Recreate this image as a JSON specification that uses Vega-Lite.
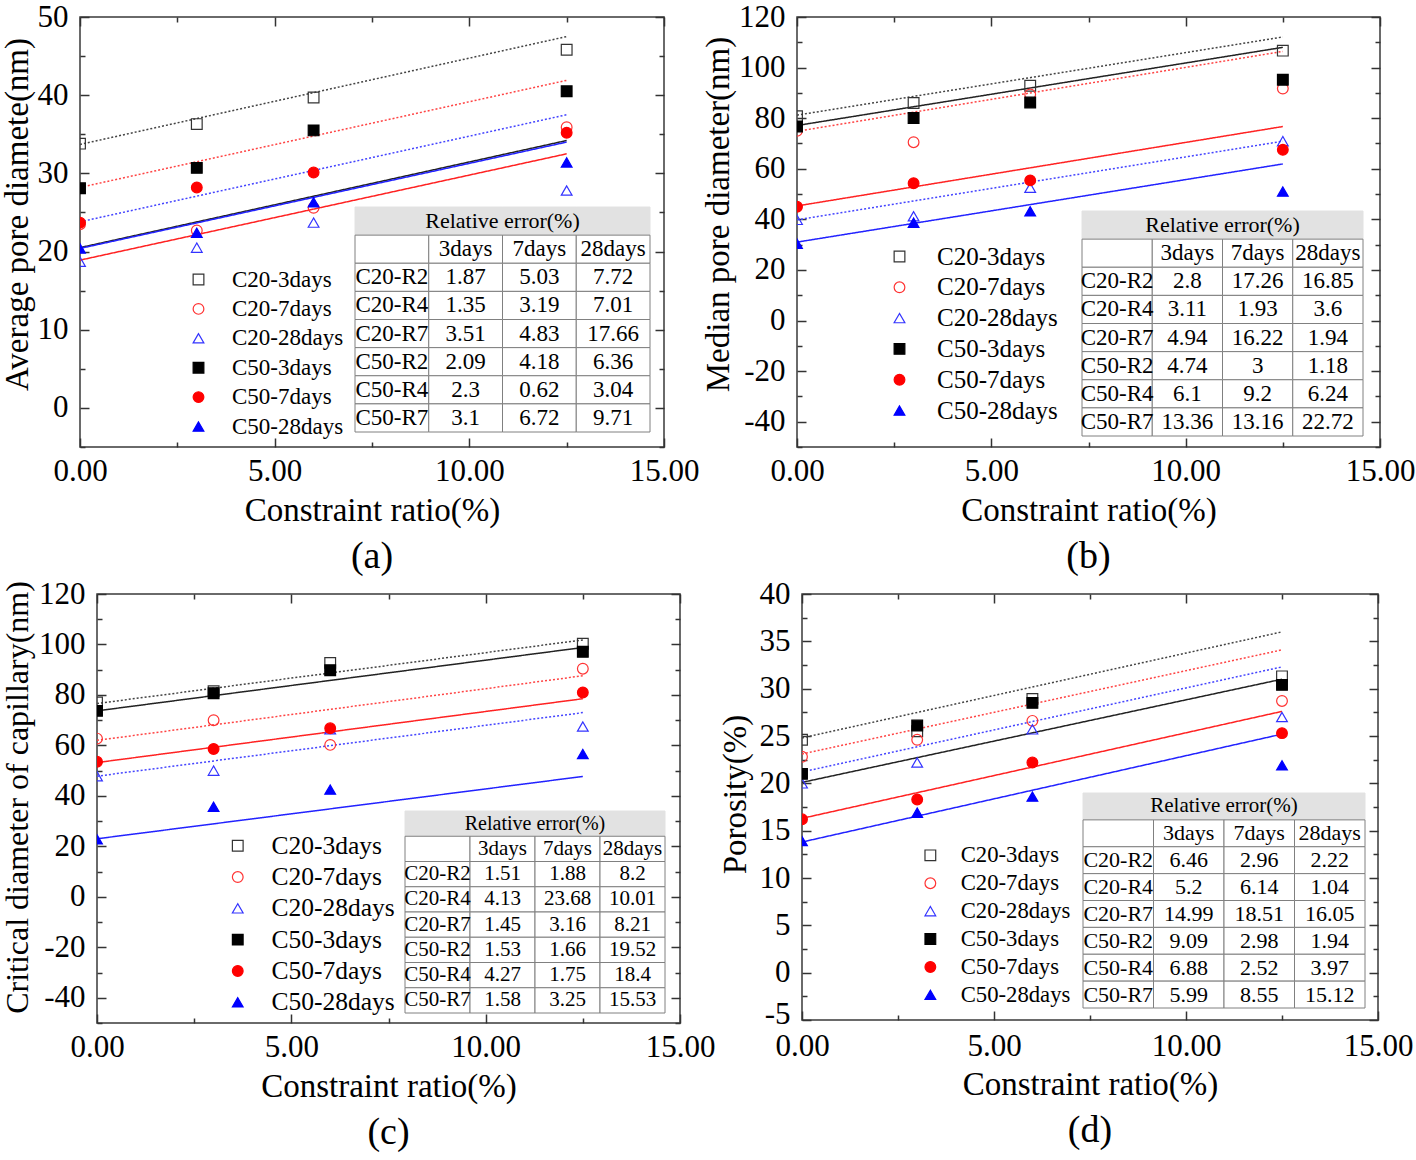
{
"$schema": "https://vega.github.io/schema/vega-lite/v6.json",
"padding": {"left": -2, "top": 0, "right": 0, "bottom": 0},
"background": "white",
"config": {
  "font": "Liberation Serif",
  "view": {"stroke": "#3a3a3a", "strokeWidth": 1.5},
  "axis": {"labelFont": "Liberation Serif", "titleFont": "Liberation Serif", "labelFontSize": 31, "titleFontSize": 33, "titleFontWeight": "normal", "labelColor": "#000", "titleColor": "#000", "tickColor": "#333", "tickWidth": 1.5, "domain": false, "grid": false, "labelFlush": false, "labelOverlap": false, "labelBound": false},
  "legend": {"labelFont": "Liberation Serif", "labelColor": "#000", "symbolStrokeWidth": 1.2, "symbolSize": 115},
  "title": {"font": "Liberation Serif", "fontSize": 38, "fontWeight": "normal", "color": "#000"}
},
"datasets": {
  "pa": [
    {"series": "C20-3days", "x": 0, "y": 33.8}, {"series": "C20-3days", "x": 3, "y": 36.3}, {"series": "C20-3days", "x": 6, "y": 39.7}, {"series": "C20-3days", "x": 12.5, "y": 45.8},
    {"series": "C20-7days", "x": 0, "y": 23.5}, {"series": "C20-7days", "x": 3, "y": 22.7}, {"series": "C20-7days", "x": 6, "y": 25.6}, {"series": "C20-7days", "x": 12.5, "y": 35.9},
    {"series": "C20-28days", "x": 0, "y": 18.7}, {"series": "C20-28days", "x": 3, "y": 20.5}, {"series": "C20-28days", "x": 6, "y": 23.7}, {"series": "C20-28days", "x": 12.5, "y": 27.8},
    {"series": "C50-3days", "x": 0, "y": 28.1}, {"series": "C50-3days", "x": 3, "y": 30.7}, {"series": "C50-3days", "x": 6, "y": 35.5}, {"series": "C50-3days", "x": 12.5, "y": 40.5},
    {"series": "C50-7days", "x": 0, "y": 23.7}, {"series": "C50-7days", "x": 3, "y": 28.2}, {"series": "C50-7days", "x": 6, "y": 30.1}, {"series": "C50-7days", "x": 12.5, "y": 35.2},
    {"series": "C50-28days", "x": 0, "y": 20.4}, {"series": "C50-28days", "x": 3, "y": 22.4}, {"series": "C50-28days", "x": 6, "y": 26.3}, {"series": "C50-28days", "x": 12.5, "y": 31.4}
  ],
  "la": [
    {"series": "C20-3days", "x": 0, "y": 33.7}, {"series": "C20-3days", "x": 12.5, "y": 47.5},
    {"series": "C20-7days", "x": 0, "y": 28.2}, {"series": "C20-7days", "x": 12.5, "y": 41.9},
    {"series": "C20-28days", "x": 0, "y": 23.8}, {"series": "C20-28days", "x": 12.5, "y": 37.5},
    {"series": "C50-3days", "x": 0, "y": 20.5}, {"series": "C50-3days", "x": 12.5, "y": 34.2},
    {"series": "C50-7days", "x": 0, "y": 18.9}, {"series": "C50-7days", "x": 12.5, "y": 32.5},
    {"series": "C50-28days", "x": 0, "y": 20.4}, {"series": "C50-28days", "x": 12.5, "y": 34.0}
  ],
  "ta": [
    {"r": "title", "c": "lbl", "t": ""}, {"r": "title", "c": "3days", "t": ""}, {"r": "title", "c": "7days", "t": ""}, {"r": "title", "c": "28days", "t": ""},
    {"r": "head", "c": "lbl", "t": ""}, {"r": "head", "c": "3days", "t": "3days"}, {"r": "head", "c": "7days", "t": "7days"}, {"r": "head", "c": "28days", "t": "28days"},
    {"r": "C20-R2", "c": "lbl", "t": "C20-R2"}, {"r": "C20-R2", "c": "3days", "t": "1.87"}, {"r": "C20-R2", "c": "7days", "t": "5.03"}, {"r": "C20-R2", "c": "28days", "t": "7.72"},
    {"r": "C20-R4", "c": "lbl", "t": "C20-R4"}, {"r": "C20-R4", "c": "3days", "t": "1.35"}, {"r": "C20-R4", "c": "7days", "t": "3.19"}, {"r": "C20-R4", "c": "28days", "t": "7.01"},
    {"r": "C20-R7", "c": "lbl", "t": "C20-R7"}, {"r": "C20-R7", "c": "3days", "t": "3.51"}, {"r": "C20-R7", "c": "7days", "t": "4.83"}, {"r": "C20-R7", "c": "28days", "t": "17.66"},
    {"r": "C50-R2", "c": "lbl", "t": "C50-R2"}, {"r": "C50-R2", "c": "3days", "t": "2.09"}, {"r": "C50-R2", "c": "7days", "t": "4.18"}, {"r": "C50-R2", "c": "28days", "t": "6.36"},
    {"r": "C50-R4", "c": "lbl", "t": "C50-R4"}, {"r": "C50-R4", "c": "3days", "t": "2.3"}, {"r": "C50-R4", "c": "7days", "t": "0.62"}, {"r": "C50-R4", "c": "28days", "t": "3.04"},
    {"r": "C50-R7", "c": "lbl", "t": "C50-R7"}, {"r": "C50-R7", "c": "3days", "t": "3.1"}, {"r": "C50-R7", "c": "7days", "t": "6.72"}, {"r": "C50-R7", "c": "28days", "t": "9.71"}
  ],
  "pb": [
    {"series": "C20-3days", "x": 0, "y": 80.8}, {"series": "C20-3days", "x": 3, "y": 86}, {"series": "C20-3days", "x": 6, "y": 92.8}, {"series": "C20-3days", "x": 12.5, "y": 106.7},
    {"series": "C20-7days", "x": 0, "y": 75}, {"series": "C20-7days", "x": 3, "y": 70.5}, {"series": "C20-7days", "x": 6, "y": 89.4}, {"series": "C20-7days", "x": 12.5, "y": 91.7},
    {"series": "C20-28days", "x": 0, "y": 39.8}, {"series": "C20-28days", "x": 3, "y": 41.2}, {"series": "C20-28days", "x": 6, "y": 52.5}, {"series": "C20-28days", "x": 12.5, "y": 70.9},
    {"series": "C50-3days", "x": 0, "y": 76.7}, {"series": "C50-3days", "x": 3, "y": 80.1}, {"series": "C50-3days", "x": 6, "y": 86.2}, {"series": "C50-3days", "x": 12.5, "y": 95.2},
    {"series": "C50-7days", "x": 0, "y": 45}, {"series": "C50-7days", "x": 3, "y": 54.3}, {"series": "C50-7days", "x": 6, "y": 55.4}, {"series": "C50-7days", "x": 12.5, "y": 67.5},
    {"series": "C50-28days", "x": 0, "y": 30.4}, {"series": "C50-28days", "x": 3, "y": 38.7}, {"series": "C50-28days", "x": 6, "y": 43.2}, {"series": "C50-28days", "x": 12.5, "y": 51}
  ],
  "lb": [
    {"series": "C20-3days", "x": 0, "y": 81.2}, {"series": "C20-3days", "x": 12.5, "y": 112.1},
    {"series": "C20-7days", "x": 0, "y": 74.8}, {"series": "C20-7days", "x": 12.5, "y": 106.4},
    {"series": "C20-28days", "x": 0, "y": 39.8}, {"series": "C20-28days", "x": 12.5, "y": 70.9},
    {"series": "C50-3days", "x": 0, "y": 77.1}, {"series": "C50-3days", "x": 12.5, "y": 108},
    {"series": "C50-7days", "x": 0, "y": 45.3}, {"series": "C50-7days", "x": 12.5, "y": 76.7},
    {"series": "C50-28days", "x": 0, "y": 31}, {"series": "C50-28days", "x": 12.5, "y": 61.9}
  ],
  "tb": [
    {"r": "title", "c": "lbl", "t": ""}, {"r": "title", "c": "3days", "t": ""}, {"r": "title", "c": "7days", "t": ""}, {"r": "title", "c": "28days", "t": ""},
    {"r": "head", "c": "lbl", "t": ""}, {"r": "head", "c": "3days", "t": "3days"}, {"r": "head", "c": "7days", "t": "7days"}, {"r": "head", "c": "28days", "t": "28days"},
    {"r": "C20-R2", "c": "lbl", "t": "C20-R2"}, {"r": "C20-R2", "c": "3days", "t": "2.8"}, {"r": "C20-R2", "c": "7days", "t": "17.26"}, {"r": "C20-R2", "c": "28days", "t": "16.85"},
    {"r": "C20-R4", "c": "lbl", "t": "C20-R4"}, {"r": "C20-R4", "c": "3days", "t": "3.11"}, {"r": "C20-R4", "c": "7days", "t": "1.93"}, {"r": "C20-R4", "c": "28days", "t": "3.6"},
    {"r": "C20-R7", "c": "lbl", "t": "C20-R7"}, {"r": "C20-R7", "c": "3days", "t": "4.94"}, {"r": "C20-R7", "c": "7days", "t": "16.22"}, {"r": "C20-R7", "c": "28days", "t": "1.94"},
    {"r": "C50-R2", "c": "lbl", "t": "C50-R2"}, {"r": "C50-R2", "c": "3days", "t": "4.74"}, {"r": "C50-R2", "c": "7days", "t": "3"}, {"r": "C50-R2", "c": "28days", "t": "1.18"},
    {"r": "C50-R4", "c": "lbl", "t": "C50-R4"}, {"r": "C50-R4", "c": "3days", "t": "6.1"}, {"r": "C50-R4", "c": "7days", "t": "9.2"}, {"r": "C50-R4", "c": "28days", "t": "6.24"},
    {"r": "C50-R7", "c": "lbl", "t": "C50-R7"}, {"r": "C50-R7", "c": "3days", "t": "13.36"}, {"r": "C50-R7", "c": "7days", "t": "13.16"}, {"r": "C50-R7", "c": "28days", "t": "22.72"}
  ],
  "pc": [
    {"series": "C20-3days", "x": 0, "y": 77}, {"series": "C20-3days", "x": 3, "y": 81.5}, {"series": "C20-3days", "x": 6, "y": 92.7}, {"series": "C20-3days", "x": 12.5, "y": 100.3},
    {"series": "C20-7days", "x": 0, "y": 62.7}, {"series": "C20-7days", "x": 3, "y": 70}, {"series": "C20-7days", "x": 6, "y": 60.2}, {"series": "C20-7days", "x": 12.5, "y": 90.4},
    {"series": "C20-28days", "x": 0, "y": 47.8}, {"series": "C20-28days", "x": 3, "y": 50}, {"series": "C20-28days", "x": 6, "y": 66.4}, {"series": "C20-28days", "x": 12.5, "y": 67.5},
    {"series": "C50-3days", "x": 0, "y": 73.7}, {"series": "C50-3days", "x": 3, "y": 80.7}, {"series": "C50-3days", "x": 6, "y": 89.8}, {"series": "C50-3days", "x": 12.5, "y": 97.1},
    {"series": "C50-7days", "x": 0, "y": 53.5}, {"series": "C50-7days", "x": 3, "y": 58.6}, {"series": "C50-7days", "x": 6, "y": 66.8}, {"series": "C50-7days", "x": 12.5, "y": 81},
    {"series": "C50-28days", "x": 0, "y": 22.8}, {"series": "C50-28days", "x": 3, "y": 35.7}, {"series": "C50-28days", "x": 6, "y": 42.5}, {"series": "C50-28days", "x": 12.5, "y": 56.6}
  ],
  "lc": [
    {"series": "C20-3days", "x": 0, "y": 76.6}, {"series": "C20-3days", "x": 12.5, "y": 101.8},
    {"series": "C20-7days", "x": 0, "y": 62}, {"series": "C20-7days", "x": 12.5, "y": 87.6},
    {"series": "C20-28days", "x": 0, "y": 47.8}, {"series": "C20-28days", "x": 12.5, "y": 73},
    {"series": "C50-3days", "x": 0, "y": 73.7}, {"series": "C50-3days", "x": 12.5, "y": 98.8},
    {"series": "C50-7days", "x": 0, "y": 53.2}, {"series": "C50-7days", "x": 12.5, "y": 78.5},
    {"series": "C50-28days", "x": 0, "y": 23}, {"series": "C50-28days", "x": 12.5, "y": 47.7}
  ],
  "tc": [
    {"r": "title", "c": "lbl", "t": ""}, {"r": "title", "c": "3days", "t": ""}, {"r": "title", "c": "7days", "t": ""}, {"r": "title", "c": "28days", "t": ""},
    {"r": "head", "c": "lbl", "t": ""}, {"r": "head", "c": "3days", "t": "3days"}, {"r": "head", "c": "7days", "t": "7days"}, {"r": "head", "c": "28days", "t": "28days"},
    {"r": "C20-R2", "c": "lbl", "t": "C20-R2"}, {"r": "C20-R2", "c": "3days", "t": "1.51"}, {"r": "C20-R2", "c": "7days", "t": "1.88"}, {"r": "C20-R2", "c": "28days", "t": "8.2"},
    {"r": "C20-R4", "c": "lbl", "t": "C20-R4"}, {"r": "C20-R4", "c": "3days", "t": "4.13"}, {"r": "C20-R4", "c": "7days", "t": "23.68"}, {"r": "C20-R4", "c": "28days", "t": "10.01"},
    {"r": "C20-R7", "c": "lbl", "t": "C20-R7"}, {"r": "C20-R7", "c": "3days", "t": "1.45"}, {"r": "C20-R7", "c": "7days", "t": "3.16"}, {"r": "C20-R7", "c": "28days", "t": "8.21"},
    {"r": "C50-R2", "c": "lbl", "t": "C50-R2"}, {"r": "C50-R2", "c": "3days", "t": "1.53"}, {"r": "C50-R2", "c": "7days", "t": "1.66"}, {"r": "C50-R2", "c": "28days", "t": "19.52"},
    {"r": "C50-R4", "c": "lbl", "t": "C50-R4"}, {"r": "C50-R4", "c": "3days", "t": "4.27"}, {"r": "C50-R4", "c": "7days", "t": "1.75"}, {"r": "C50-R4", "c": "28days", "t": "18.4"},
    {"r": "C50-R7", "c": "lbl", "t": "C50-R7"}, {"r": "C50-R7", "c": "3days", "t": "1.58"}, {"r": "C50-R7", "c": "7days", "t": "3.25"}, {"r": "C50-R7", "c": "28days", "t": "15.53"}
  ],
  "pd": [
    {"series": "C20-3days", "x": 0, "y": 24.6}, {"series": "C20-3days", "x": 3, "y": 25.5}, {"series": "C20-3days", "x": 6, "y": 28.9}, {"series": "C20-3days", "x": 12.5, "y": 31.3},
    {"series": "C20-7days", "x": 0, "y": 22.8}, {"series": "C20-7days", "x": 3, "y": 24.6}, {"series": "C20-7days", "x": 6, "y": 26.6}, {"series": "C20-7days", "x": 12.5, "y": 28.7},
    {"series": "C20-28days", "x": 0, "y": 20}, {"series": "C20-28days", "x": 3, "y": 22.2}, {"series": "C20-28days", "x": 6, "y": 25.7}, {"series": "C20-28days", "x": 12.5, "y": 27},
    {"series": "C50-3days", "x": 0, "y": 21}, {"series": "C50-3days", "x": 3, "y": 26.1}, {"series": "C50-3days", "x": 6, "y": 28.5}, {"series": "C50-3days", "x": 12.5, "y": 30.4},
    {"series": "C50-7days", "x": 0, "y": 16.2}, {"series": "C50-7days", "x": 3, "y": 18.3}, {"series": "C50-7days", "x": 6, "y": 22.2}, {"series": "C50-7days", "x": 12.5, "y": 25.3},
    {"series": "C50-28days", "x": 0, "y": 13.9}, {"series": "C50-28days", "x": 3, "y": 16.9}, {"series": "C50-28days", "x": 6, "y": 18.6}, {"series": "C50-28days", "x": 12.5, "y": 21.9}
  ],
  "ld": [
    {"series": "C20-3days", "x": 0, "y": 24.8}, {"series": "C20-3days", "x": 12.5, "y": 36},
    {"series": "C20-7days", "x": 0, "y": 23.1}, {"series": "C20-7days", "x": 12.5, "y": 34.1},
    {"series": "C20-28days", "x": 0, "y": 21.2}, {"series": "C20-28days", "x": 12.5, "y": 32.3},
    {"series": "C50-3days", "x": 0, "y": 20.1}, {"series": "C50-3days", "x": 12.5, "y": 31},
    {"series": "C50-7days", "x": 0, "y": 16.3}, {"series": "C50-7days", "x": 12.5, "y": 27.6},
    {"series": "C50-28days", "x": 0, "y": 13.8}, {"series": "C50-28days", "x": 12.5, "y": 25.2}
  ],
  "td": [
    {"r": "title", "c": "lbl", "t": ""}, {"r": "title", "c": "3days", "t": ""}, {"r": "title", "c": "7days", "t": ""}, {"r": "title", "c": "28days", "t": ""},
    {"r": "head", "c": "lbl", "t": ""}, {"r": "head", "c": "3days", "t": "3days"}, {"r": "head", "c": "7days", "t": "7days"}, {"r": "head", "c": "28days", "t": "28days"},
    {"r": "C20-R2", "c": "lbl", "t": "C20-R2"}, {"r": "C20-R2", "c": "3days", "t": "6.46"}, {"r": "C20-R2", "c": "7days", "t": "2.96"}, {"r": "C20-R2", "c": "28days", "t": "2.22"},
    {"r": "C20-R4", "c": "lbl", "t": "C20-R4"}, {"r": "C20-R4", "c": "3days", "t": "5.2"}, {"r": "C20-R4", "c": "7days", "t": "6.14"}, {"r": "C20-R4", "c": "28days", "t": "1.04"},
    {"r": "C20-R7", "c": "lbl", "t": "C20-R7"}, {"r": "C20-R7", "c": "3days", "t": "14.99"}, {"r": "C20-R7", "c": "7days", "t": "18.51"}, {"r": "C20-R7", "c": "28days", "t": "16.05"},
    {"r": "C50-R2", "c": "lbl", "t": "C50-R2"}, {"r": "C50-R2", "c": "3days", "t": "9.09"}, {"r": "C50-R2", "c": "7days", "t": "2.98"}, {"r": "C50-R2", "c": "28days", "t": "1.94"},
    {"r": "C50-R4", "c": "lbl", "t": "C50-R4"}, {"r": "C50-R4", "c": "3days", "t": "6.88"}, {"r": "C50-R4", "c": "7days", "t": "2.52"}, {"r": "C50-R4", "c": "28days", "t": "3.97"},
    {"r": "C50-R7", "c": "lbl", "t": "C50-R7"}, {"r": "C50-R7", "c": "3days", "t": "5.99"}, {"r": "C50-R7", "c": "7days", "t": "8.55"}, {"r": "C50-R7", "c": "28days", "t": "15.12"}
  ]
},
"columns": 3,
"align": "none",
"spacing": {"row": 0, "column": 1},
"resolve": {"scale": {"color": "independent", "stroke": "independent", "fill": "independent", "shape": "independent", "strokeDash": "independent"}, "legend": {"color": "independent", "stroke": "independent", "fill": "independent", "shape": "independent", "strokeDash": "independent"}},
"concat": [
   {"width": 1, "height": 1, "view": {"stroke": null}, "data": {"values": []}, "mark": {"type": "point", "opacity": 0}, "encoding": {}},
   {
    "width": 584, "height": 430,
    "title": {"text": "(a)", "orient": "bottom", "anchor": "middle", "frame": "group", "offset": 11},
    "layer": [
     {
      "layer": [
       {
        "data": {"name": "la"},
        "mark": {"type": "line", "strokeWidth": 1.5, "clip": true},
        "encoding": {
          "x": {"field": "x", "type": "quantitative", "scale": {"domain": [0, 15], "nice": false, "zero": false}, "axis": {"orient": "top", "values": [0, 2.5, 5, 7.5, 10, 12.5, 15], "labels": false, "title": null, "tickSize": {"condition": {"test": "datum.value % 5 === 0", "value": -9}, "value": -5}}},
          "y": {"field": "y", "type": "quantitative", "scale": {"domain": [-5, 50], "nice": false, "zero": false}, "axis": {"orient": "right", "values": [-5, 0, 5, 10, 15, 20, 25, 30, 35, 40, 45, 50], "labels": false, "title": null, "tickSize": {"condition": {"test": "datum.value % 10 === 0", "value": -9}, "value": -5}}},
          "color": {"field": "series", "type": "nominal", "scale": {"domain": ["C50-28days", "C50-7days", "C50-3days", "C20-28days", "C20-7days", "C20-3days"], "range": ["#2222ff", "#ff2222", "#222222", "#4444ff", "#ff4444", "#444444"]}, "legend": null},
          "strokeDash": {"field": "series", "type": "nominal", "scale": {"domain": ["C50-28days", "C50-7days", "C50-3days", "C20-28days", "C20-7days", "C20-3days"], "range": [[1, 0], [1, 0], [1, 0], [2, 2], [2, 2], [2, 2]]}, "legend": null}
        }
       },
       {
        "data": {"name": "pa"},
        "mark": {"type": "point", "size": 115, "strokeWidth": 1.2, "opacity": 1, "clip": true},
        "encoding": {
          "x": {"field": "x", "type": "quantitative", "scale": {"domain": [0, 15], "nice": false, "zero": false}, "axis": {"orient": "bottom", "values": [0, 2.5, 5, 7.5, 10, 12.5, 15], "labelExpr": "datum.value % 5 === 0 ? format(datum.value, '.2f') : ''", "title": "Constraint ratio(%)", "tickSize": {"condition": {"test": "datum.value % 5 === 0", "value": -9}, "value": -5}, "labelPadding": 18, "titlePadding": 4}},
          "y": {"field": "y", "type": "quantitative", "scale": {"domain": [-5, 50], "nice": false, "zero": false}, "axis": {"orient": "left", "values": [-5, 0, 5, 10, 15, 20, 25, 30, 35, 40, 45, 50], "labelExpr": "datum.value % 10 === 0 ? '' + datum.value : ''", "title": "Average pore diamete(nm)", "titleY": 197, "tickSize": {"condition": {"test": "datum.value % 10 === 0", "value": -9}, "value": -5}, "labelPadding": 21, "titlePadding": 3}},
          "stroke": {"field": "series", "type": "nominal", "scale": {"domain": ["C20-3days", "C20-7days", "C20-28days", "C50-3days", "C50-7days", "C50-28days"], "range": ["#333333", "#ff3333", "#3333ff", "#000000", "#ff0000", "#0000ff"]}, "legend": {"orient": "none", "legendX": 107, "legendY": 251, "labelFontSize": 23, "rowPadding": 5.4, "labelOffset": 22, "title": null}},
          "fill": {"field": "series", "type": "nominal", "scale": {"domain": ["C20-3days", "C20-7days", "C20-28days", "C50-3days", "C50-7days", "C50-28days"], "range": ["transparent", "transparent", "transparent", "#000000", "#ff0000", "#0000ff"]}, "legend": {"orient": "none", "legendX": 107, "legendY": 251, "labelFontSize": 23, "rowPadding": 5.4, "labelOffset": 22, "title": null}},
          "shape": {"field": "series", "type": "nominal", "scale": {"domain": ["C20-3days", "C20-7days", "C20-28days", "C50-3days", "C50-7days", "C50-28days"], "range": ["square", "circle", "triangle-up", "square", "circle", "triangle-up"]}, "legend": {"orient": "none", "legendX": 107, "legendY": 251, "labelFontSize": 23, "rowPadding": 5.4, "labelOffset": 22, "title": null}}
        }
       }
      ],
      "resolve": {"axis": {"x": "independent", "y": "independent"}}
     },
     {
      "data": {"name": "ta"},
      "layer": [
       {
        "mark": {"type": "rect", "strokeWidth": 1},
        "encoding": {
          "x": {"field": "c", "type": "nominal", "scale": {"type": "band", "domain": ["lbl", "3days", "7days", "28days"], "range": [275, 570], "paddingInner": 0, "paddingOuter": 0}, "axis": null},
          "y": {"field": "r", "type": "nominal", "scale": {"type": "band", "domain": ["title", "head", "C20-R2", "C20-R4", "C20-R7", "C50-R2", "C50-R4", "C50-R7"], "range": [190, 415], "paddingInner": 0, "paddingOuter": 0}, "axis": null},
          "fill": {"condition": {"test": "datum.r === 'title'", "value": "#e2e2e2"}, "value": "#ffffff"},
          "stroke": {"condition": {"test": "datum.r === 'title'", "value": "#e2e2e2"}, "value": "#808080"}
        }
       },
       {
        "mark": {"type": "text", "fontSize": 23, "font": "Liberation Serif", "color": "#000"},
        "encoding": {
          "x": {"field": "c", "type": "nominal", "scale": {"type": "band", "domain": ["lbl", "3days", "7days", "28days"], "range": [275, 570], "paddingInner": 0, "paddingOuter": 0}, "axis": null},
          "y": {"field": "r", "type": "nominal", "scale": {"type": "band", "domain": ["title", "head", "C20-R2", "C20-R4", "C20-R7", "C50-R2", "C50-R4", "C50-R7"], "range": [190, 415], "paddingInner": 0, "paddingOuter": 0}, "axis": null},
          "text": {"field": "t"}
        }
       },
       {
        "data": {"values": [{"t": "Relative error(%)"}]},
        "mark": {"type": "text", "fontSize": 22, "font": "Liberation Serif", "color": "#000"},
        "encoding": {
          "x": {"datum": "7days", "bandPosition": 0},
          "y": {"datum": "title"},
          "text": {"field": "t"}
        }
       }
      ]
     }
    ],
    "resolve": {"scale": {"x": "independent", "y": "independent"}}
   },
   {
    "width": 583, "height": 430,
    "title": {"text": "(b)", "orient": "bottom", "anchor": "middle", "frame": "group", "offset": 11},
    "layer": [
     {
      "layer": [
       {
        "data": {"name": "lb"},
        "mark": {"type": "line", "strokeWidth": 1.5, "clip": true},
        "encoding": {
          "x": {"field": "x", "type": "quantitative", "scale": {"domain": [0, 15], "nice": false, "zero": false}, "axis": {"orient": "top", "values": [0, 2.5, 5, 7.5, 10, 12.5, 15], "labels": false, "title": null, "tickSize": {"condition": {"test": "datum.value % 5 === 0", "value": -9}, "value": -5}}},
          "y": {"field": "y", "type": "quantitative", "scale": {"domain": [-50, 120], "nice": false, "zero": false}, "axis": {"orient": "right", "values": [-50, -40, -30, -20, -10, 0, 10, 20, 30, 40, 50, 60, 70, 80, 90, 100, 110, 120], "labels": false, "title": null, "tickSize": {"condition": {"test": "datum.value % 20 === 0", "value": -9}, "value": -5}}},
          "color": {"field": "series", "type": "nominal", "scale": {"domain": ["C50-28days", "C50-7days", "C50-3days", "C20-28days", "C20-7days", "C20-3days"], "range": ["#2222ff", "#ff2222", "#222222", "#4444ff", "#ff4444", "#444444"]}, "legend": null},
          "strokeDash": {"field": "series", "type": "nominal", "scale": {"domain": ["C50-28days", "C50-7days", "C50-3days", "C20-28days", "C20-7days", "C20-3days"], "range": [[1, 0], [1, 0], [1, 0], [2, 2], [2, 2], [2, 2]]}, "legend": null}
        }
       },
       {
        "data": {"name": "pb"},
        "mark": {"type": "point", "size": 115, "strokeWidth": 1.2, "opacity": 1, "clip": true},
        "encoding": {
          "x": {"field": "x", "type": "quantitative", "scale": {"domain": [0, 15], "nice": false, "zero": false}, "axis": {"orient": "bottom", "values": [0, 2.5, 5, 7.5, 10, 12.5, 15], "labelExpr": "datum.value % 5 === 0 ? format(datum.value, '.2f') : ''", "title": "Constraint ratio(%)", "tickSize": {"condition": {"test": "datum.value % 5 === 0", "value": -9}, "value": -5}, "labelPadding": 18, "titlePadding": 4}},
          "y": {"field": "y", "type": "quantitative", "scale": {"domain": [-50, 120], "nice": false, "zero": false}, "axis": {"orient": "left", "values": [-50, -40, -30, -20, -10, 0, 10, 20, 30, 40, 50, 60, 70, 80, 90, 100, 110, 120], "labelExpr": "datum.value % 20 === 0 ? '' + datum.value : ''", "title": "Median pore diameter(nm)", "titleY": 197, "tickSize": {"condition": {"test": "datum.value % 20 === 0", "value": -9}, "value": -5}, "labelPadding": 21, "titlePadding": 3}},
          "stroke": {"field": "series", "type": "nominal", "scale": {"domain": ["C20-3days", "C20-7days", "C20-28days", "C50-3days", "C50-7days", "C50-28days"], "range": ["#333333", "#ff3333", "#3333ff", "#000000", "#ff0000", "#0000ff"]}, "legend": {"orient": "none", "legendX": 90, "legendY": 227, "labelFontSize": 25, "rowPadding": 4.8, "labelOffset": 25, "title": null}},
          "fill": {"field": "series", "type": "nominal", "scale": {"domain": ["C20-3days", "C20-7days", "C20-28days", "C50-3days", "C50-7days", "C50-28days"], "range": ["transparent", "transparent", "transparent", "#000000", "#ff0000", "#0000ff"]}, "legend": {"orient": "none", "legendX": 90, "legendY": 227, "labelFontSize": 25, "rowPadding": 4.8, "labelOffset": 25, "title": null}},
          "shape": {"field": "series", "type": "nominal", "scale": {"domain": ["C20-3days", "C20-7days", "C20-28days", "C50-3days", "C50-7days", "C50-28days"], "range": ["square", "circle", "triangle-up", "square", "circle", "triangle-up"]}, "legend": {"orient": "none", "legendX": 90, "legendY": 227, "labelFontSize": 25, "rowPadding": 4.8, "labelOffset": 25, "title": null}}
        }
       }
      ],
      "resolve": {"axis": {"x": "independent", "y": "independent"}}
     },
     {
      "data": {"name": "tb"},
      "layer": [
       {
        "mark": {"type": "rect", "strokeWidth": 1},
        "encoding": {
          "x": {"field": "c", "type": "nominal", "scale": {"type": "band", "domain": ["lbl", "3days", "7days", "28days"], "range": [285, 566], "paddingInner": 0, "paddingOuter": 0}, "axis": null},
          "y": {"field": "r", "type": "nominal", "scale": {"type": "band", "domain": ["title", "head", "C20-R2", "C20-R4", "C20-R7", "C50-R2", "C50-R4", "C50-R7"], "range": [194, 419], "paddingInner": 0, "paddingOuter": 0}, "axis": null},
          "fill": {"condition": {"test": "datum.r === 'title'", "value": "#e2e2e2"}, "value": "#ffffff"},
          "stroke": {"condition": {"test": "datum.r === 'title'", "value": "#e2e2e2"}, "value": "#808080"}
        }
       },
       {
        "mark": {"type": "text", "fontSize": 23, "font": "Liberation Serif", "color": "#000"},
        "encoding": {
          "x": {"field": "c", "type": "nominal", "scale": {"type": "band", "domain": ["lbl", "3days", "7days", "28days"], "range": [285, 566], "paddingInner": 0, "paddingOuter": 0}, "axis": null},
          "y": {"field": "r", "type": "nominal", "scale": {"type": "band", "domain": ["title", "head", "C20-R2", "C20-R4", "C20-R7", "C50-R2", "C50-R4", "C50-R7"], "range": [194, 419], "paddingInner": 0, "paddingOuter": 0}, "axis": null},
          "text": {"field": "t"}
        }
       },
       {
        "data": {"values": [{"t": "Relative error(%)"}]},
        "mark": {"type": "text", "fontSize": 22, "font": "Liberation Serif", "color": "#000"},
        "encoding": {
          "x": {"datum": "7days", "bandPosition": 0},
          "y": {"datum": "title"},
          "text": {"field": "t"}
        }
       }
      ]
     }
    ],
    "resolve": {"scale": {"x": "independent", "y": "independent"}}
   },
   {"width": 1, "height": 1, "view": {"stroke": null}, "data": {"values": []}, "mark": {"type": "point", "opacity": 0}, "encoding": {}},
   {
    "width": 583, "height": 429,
    "title": {"text": "(c)", "orient": "bottom", "anchor": "middle", "frame": "group", "offset": 11},
    "layer": [
     {
      "layer": [
       {
        "data": {"name": "lc"},
        "mark": {"type": "line", "strokeWidth": 1.5, "clip": true},
        "encoding": {
          "x": {"field": "x", "type": "quantitative", "scale": {"domain": [0, 15], "nice": false, "zero": false}, "axis": {"orient": "top", "values": [0, 2.5, 5, 7.5, 10, 12.5, 15], "labels": false, "title": null, "tickSize": {"condition": {"test": "datum.value % 5 === 0", "value": -9}, "value": -5}}},
          "y": {"field": "y", "type": "quantitative", "scale": {"domain": [-50, 120], "nice": false, "zero": false}, "axis": {"orient": "right", "values": [-50, -40, -30, -20, -10, 0, 10, 20, 30, 40, 50, 60, 70, 80, 90, 100, 110, 120], "labels": false, "title": null, "tickSize": {"condition": {"test": "datum.value % 20 === 0", "value": -9}, "value": -5}}},
          "color": {"field": "series", "type": "nominal", "scale": {"domain": ["C50-28days", "C50-7days", "C50-3days", "C20-28days", "C20-7days", "C20-3days"], "range": ["#2222ff", "#ff2222", "#222222", "#4444ff", "#ff4444", "#444444"]}, "legend": null},
          "strokeDash": {"field": "series", "type": "nominal", "scale": {"domain": ["C50-28days", "C50-7days", "C50-3days", "C20-28days", "C20-7days", "C20-3days"], "range": [[1, 0], [1, 0], [1, 0], [2, 2], [2, 2], [2, 2]]}, "legend": null}
        }
       },
       {
        "data": {"name": "pc"},
        "mark": {"type": "point", "size": 115, "strokeWidth": 1.2, "opacity": 1, "clip": true},
        "encoding": {
          "x": {"field": "x", "type": "quantitative", "scale": {"domain": [0, 15], "nice": false, "zero": false}, "axis": {"orient": "bottom", "values": [0, 2.5, 5, 7.5, 10, 12.5, 15], "labelExpr": "datum.value % 5 === 0 ? format(datum.value, '.2f') : ''", "title": "Constraint ratio(%)", "tickSize": {"condition": {"test": "datum.value % 5 === 0", "value": -9}, "value": -5}, "labelPadding": 18, "titlePadding": 4}},
          "y": {"field": "y", "type": "quantitative", "scale": {"domain": [-50, 120], "nice": false, "zero": false}, "axis": {"orient": "left", "values": [-50, -40, -30, -20, -10, 0, 10, 20, 30, 40, 50, 60, 70, 80, 90, 100, 110, 120], "labelExpr": "datum.value % 20 === 0 ? '' + datum.value : ''", "title": "Critical diameter of capillary(nm)", "titleFontSize": 32, "titleY": 203, "tickSize": {"condition": {"test": "datum.value % 20 === 0", "value": -9}, "value": -5}, "labelPadding": 21, "titlePadding": 4}},
          "stroke": {"field": "series", "type": "nominal", "scale": {"domain": ["C20-3days", "C20-7days", "C20-28days", "C50-3days", "C50-7days", "C50-28days"], "range": ["#333333", "#ff3333", "#3333ff", "#000000", "#ff0000", "#0000ff"]}, "legend": {"orient": "none", "legendX": 128, "legendY": 239, "labelFontSize": 25.5, "rowPadding": 4.3, "labelOffset": 21, "title": null}},
          "fill": {"field": "series", "type": "nominal", "scale": {"domain": ["C20-3days", "C20-7days", "C20-28days", "C50-3days", "C50-7days", "C50-28days"], "range": ["transparent", "transparent", "transparent", "#000000", "#ff0000", "#0000ff"]}, "legend": {"orient": "none", "legendX": 128, "legendY": 239, "labelFontSize": 25.5, "rowPadding": 4.3, "labelOffset": 21, "title": null}},
          "shape": {"field": "series", "type": "nominal", "scale": {"domain": ["C20-3days", "C20-7days", "C20-28days", "C50-3days", "C50-7days", "C50-28days"], "range": ["square", "circle", "triangle-up", "square", "circle", "triangle-up"]}, "legend": {"orient": "none", "legendX": 128, "legendY": 239, "labelFontSize": 25.5, "rowPadding": 4.3, "labelOffset": 21, "title": null}}
        }
       }
      ],
      "resolve": {"axis": {"x": "independent", "y": "independent"}}
     },
     {
      "data": {"name": "tc"},
      "layer": [
       {
        "mark": {"type": "rect", "strokeWidth": 1},
        "encoding": {
          "x": {"field": "c", "type": "nominal", "scale": {"type": "band", "domain": ["lbl", "3days", "7days", "28days"], "range": [308, 568], "paddingInner": 0, "paddingOuter": 0}, "axis": null},
          "y": {"field": "r", "type": "nominal", "scale": {"type": "band", "domain": ["title", "head", "C20-R2", "C20-R4", "C20-R7", "C50-R2", "C50-R4", "C50-R7"], "range": [217, 419], "paddingInner": 0, "paddingOuter": 0}, "axis": null},
          "fill": {"condition": {"test": "datum.r === 'title'", "value": "#e2e2e2"}, "value": "#ffffff"},
          "stroke": {"condition": {"test": "datum.r === 'title'", "value": "#e2e2e2"}, "value": "#808080"}
        }
       },
       {
        "mark": {"type": "text", "fontSize": 21, "font": "Liberation Serif", "color": "#000"},
        "encoding": {
          "x": {"field": "c", "type": "nominal", "scale": {"type": "band", "domain": ["lbl", "3days", "7days", "28days"], "range": [308, 568], "paddingInner": 0, "paddingOuter": 0}, "axis": null},
          "y": {"field": "r", "type": "nominal", "scale": {"type": "band", "domain": ["title", "head", "C20-R2", "C20-R4", "C20-R7", "C50-R2", "C50-R4", "C50-R7"], "range": [217, 419], "paddingInner": 0, "paddingOuter": 0}, "axis": null},
          "text": {"field": "t"}
        }
       },
       {
        "data": {"values": [{"t": "Relative error(%)"}]},
        "mark": {"type": "text", "fontSize": 20, "font": "Liberation Serif", "color": "#000"},
        "encoding": {
          "x": {"datum": "7days", "bandPosition": 0},
          "y": {"datum": "title"},
          "text": {"field": "t"}
        }
       }
      ]
     }
    ],
    "resolve": {"scale": {"x": "independent", "y": "independent"}}
   },
   {
    "width": 576, "height": 426,
    "title": {"text": "(d)", "orient": "bottom", "anchor": "middle", "frame": "group", "offset": 11},
    "layer": [
     {
      "layer": [
       {
        "data": {"name": "ld"},
        "mark": {"type": "line", "strokeWidth": 1.5, "clip": true},
        "encoding": {
          "x": {"field": "x", "type": "quantitative", "scale": {"domain": [0, 15], "nice": false, "zero": false}, "axis": {"orient": "top", "values": [0, 2.5, 5, 7.5, 10, 12.5, 15], "labels": false, "title": null, "tickSize": {"condition": {"test": "datum.value % 5 === 0", "value": -9}, "value": -5}}},
          "y": {"field": "y", "type": "quantitative", "scale": {"domain": [-5, 40], "nice": false, "zero": false}, "axis": {"orient": "right", "values": [-5, -2.5, 0, 2.5, 5, 7.5, 10, 12.5, 15, 17.5, 20, 22.5, 25, 27.5, 30, 32.5, 35, 37.5, 40], "labels": false, "title": null, "tickSize": {"condition": {"test": "datum.value % 5 === 0", "value": -9}, "value": -5}}},
          "color": {"field": "series", "type": "nominal", "scale": {"domain": ["C50-28days", "C50-7days", "C50-3days", "C20-28days", "C20-7days", "C20-3days"], "range": ["#2222ff", "#ff2222", "#222222", "#4444ff", "#ff4444", "#444444"]}, "legend": null},
          "strokeDash": {"field": "series", "type": "nominal", "scale": {"domain": ["C50-28days", "C50-7days", "C50-3days", "C20-28days", "C20-7days", "C20-3days"], "range": [[1, 0], [1, 0], [1, 0], [2, 2], [2, 2], [2, 2]]}, "legend": null}
        }
       },
       {
        "data": {"name": "pd"},
        "mark": {"type": "point", "size": 115, "strokeWidth": 1.2, "opacity": 1, "clip": true},
        "encoding": {
          "x": {"field": "x", "type": "quantitative", "scale": {"domain": [0, 15], "nice": false, "zero": false}, "axis": {"orient": "bottom", "values": [0, 2.5, 5, 7.5, 10, 12.5, 15], "labelExpr": "datum.value % 5 === 0 ? format(datum.value, '.2f') : ''", "title": "Constraint ratio(%)", "tickSize": {"condition": {"test": "datum.value % 5 === 0", "value": -9}, "value": -5}, "labelPadding": 20, "titlePadding": 3}},
          "y": {"field": "y", "type": "quantitative", "scale": {"domain": [-5, 40], "nice": false, "zero": false}, "axis": {"orient": "left", "values": [-5, -2.5, 0, 2.5, 5, 7.5, 10, 12.5, 15, 17.5, 20, 22.5, 25, 27.5, 30, 32.5, 35, 37.5, 40], "labelExpr": "datum.value % 5 === 0 ? '' + datum.value : ''", "labelOffset": {"condition": {"test": "datum.value === -5", "value": -6}, "value": 0}, "title": "Porosity(%)", "titleY": 200, "tickSize": {"condition": {"test": "datum.value % 5 === 0", "value": -9}, "value": -5}, "labelPadding": 21, "titlePadding": 7}},
          "stroke": {"field": "series", "type": "nominal", "scale": {"domain": ["C20-3days", "C20-7days", "C20-28days", "C50-3days", "C50-7days", "C50-28days"], "range": ["#333333", "#ff3333", "#3333ff", "#000000", "#ff0000", "#0000ff"]}, "legend": {"orient": "none", "legendX": 117, "legendY": 250, "labelFontSize": 22.7, "rowPadding": 3.9, "labelOffset": 19, "title": null}},
          "fill": {"field": "series", "type": "nominal", "scale": {"domain": ["C20-3days", "C20-7days", "C20-28days", "C50-3days", "C50-7days", "C50-28days"], "range": ["transparent", "transparent", "transparent", "#000000", "#ff0000", "#0000ff"]}, "legend": {"orient": "none", "legendX": 117, "legendY": 250, "labelFontSize": 22.7, "rowPadding": 3.9, "labelOffset": 19, "title": null}},
          "shape": {"field": "series", "type": "nominal", "scale": {"domain": ["C20-3days", "C20-7days", "C20-28days", "C50-3days", "C50-7days", "C50-28days"], "range": ["square", "circle", "triangle-up", "square", "circle", "triangle-up"]}, "legend": {"orient": "none", "legendX": 117, "legendY": 250, "labelFontSize": 22.7, "rowPadding": 3.9, "labelOffset": 19, "title": null}}
        }
       }
      ],
      "resolve": {"axis": {"x": "independent", "y": "independent"}}
     },
     {
      "data": {"name": "td"},
      "layer": [
       {
        "mark": {"type": "rect", "strokeWidth": 1},
        "encoding": {
          "x": {"field": "c", "type": "nominal", "scale": {"type": "band", "domain": ["lbl", "3days", "7days", "28days"], "range": [281, 563], "paddingInner": 0, "paddingOuter": 0}, "axis": null},
          "y": {"field": "r", "type": "nominal", "scale": {"type": "band", "domain": ["title", "head", "C20-R2", "C20-R4", "C20-R7", "C50-R2", "C50-R4", "C50-R7"], "range": [199, 414], "paddingInner": 0, "paddingOuter": 0}, "axis": null},
          "fill": {"condition": {"test": "datum.r === 'title'", "value": "#e2e2e2"}, "value": "#ffffff"},
          "stroke": {"condition": {"test": "datum.r === 'title'", "value": "#e2e2e2"}, "value": "#808080"}
        }
       },
       {
        "mark": {"type": "text", "fontSize": 22, "font": "Liberation Serif", "color": "#000"},
        "encoding": {
          "x": {"field": "c", "type": "nominal", "scale": {"type": "band", "domain": ["lbl", "3days", "7days", "28days"], "range": [281, 563], "paddingInner": 0, "paddingOuter": 0}, "axis": null},
          "y": {"field": "r", "type": "nominal", "scale": {"type": "band", "domain": ["title", "head", "C20-R2", "C20-R4", "C20-R7", "C50-R2", "C50-R4", "C50-R7"], "range": [199, 414], "paddingInner": 0, "paddingOuter": 0}, "axis": null},
          "text": {"field": "t"}
        }
       },
       {
        "data": {"values": [{"t": "Relative error(%)"}]},
        "mark": {"type": "text", "fontSize": 21, "font": "Liberation Serif", "color": "#000"},
        "encoding": {
          "x": {"datum": "7days", "bandPosition": 0},
          "y": {"datum": "title"},
          "text": {"field": "t"}
        }
       }
      ]
     }
    ],
    "resolve": {"scale": {"x": "independent", "y": "independent"}}
   }
]
}
